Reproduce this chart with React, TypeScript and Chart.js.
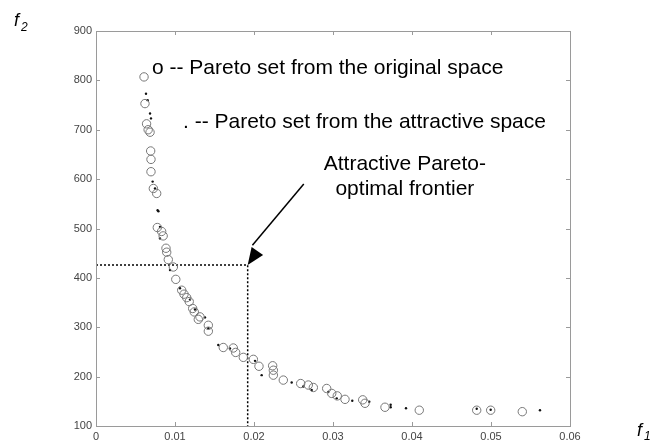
import React, { useEffect, useRef } from "react";
import { Chart, registerables } from "chart.js";

Chart.register(...registerables);

// Pareto set from the original space (circles)
const origF1 = [0.00608, 0.0062, 0.0064, 0.0066, 0.00684, 0.00692, 0.00696, 0.00696, 0.00726, 0.00768, 0.00776, 0.00831, 0.0085, 0.00886, 0.00895, 0.00915, 0.00979, 0.0101, 0.01085, 0.01114, 0.01148, 0.0118, 0.01224, 0.01244, 0.01316, 0.01295, 0.01422, 0.01422, 0.01611, 0.01738, 0.01768, 0.01865, 0.01992, 0.02063, 0.02236, 0.02245, 0.02245, 0.02371, 0.02591, 0.02687, 0.02751, 0.0292, 0.02984, 0.03054, 0.03152, 0.03376, 0.03405, 0.03658, 0.04092, 0.04819, 0.04996, 0.05396];
const origF2 = [807, 753, 712, 700, 695, 657, 640, 615, 581, 571, 502, 494, 485, 460, 452, 437, 422, 397, 375, 367, 360, 352, 338, 331, 321, 316, 304, 292, 259, 258, 249, 239, 235, 221, 222, 213, 203, 193, 186, 183, 178, 176, 166, 161, 154, 153, 146, 138, 132, 132, 132, 129];

// Pareto set from the attractive space (dots)
const attrF1 = [0.00633, 0.00654, 0.00684, 0.00696, 0.00717, 0.00747, 0.0078, 0.0079, 0.0081, 0.0081, 0.00937, 0.01063, 0.0119, 0.01253, 0.0138, 0.01422, 0.01548, 0.01696, 0.02013, 0.02097, 0.02477, 0.02624, 0.0273, 0.0294, 0.03047, 0.03244, 0.03459, 0.0373, 0.0373, 0.03924, 0.04819, 0.04996, 0.0562];
const attrF2 = [773, 760, 733, 723, 595, 581, 537, 535, 503, 480, 416, 379, 356, 336, 320, 298, 264, 257, 232, 203, 188, 180, 173, 169, 156, 151, 149, 143, 138, 136, 135, 133, 132];

// Attractive frontier marker point and arrow
const frontierF1 = 0.0192;
const frontierF2 = 426;
const arrowStart = { x: 0.0263, y: 590 };

const xTicks = [0, 0.01, 0.02, 0.03, 0.04, 0.05, 0.06];
const yTicks = [100, 200, 300, 400, 500, 600, 700, 800, 900];

const legend1 = "o -- Pareto set from the original space";
const legend2 = ". -- Pareto set from the attractive space";
const note1 = "Attractive Pareto-";
const note2 = "optimal frontier";

const TEXT_FONT = "21px 'Liberation Sans', Arial, sans-serif";

const decorPlugin = {
  id: "decor",
  afterDatasetsDraw(chart: any) {
    const { ctx, chartArea, scales } = chart;
    const xs = scales.x;
    const ys = scales.y;
    ctx.save();
    // frame
    ctx.strokeStyle = "#9a9a9a";
    ctx.lineWidth = 1;
    ctx.strokeRect(chartArea.left + 0.5, chartArea.top + 0.5, chartArea.right - chartArea.left, chartArea.bottom - chartArea.top);
    // inner ticks
    const tl = 4;
    ctx.beginPath();
    xTicks.forEach((v) => {
      const px = Math.round(xs.getPixelForValue(v)) + 0.5;
      ctx.moveTo(px, chartArea.bottom);
      ctx.lineTo(px, chartArea.bottom - tl);
      ctx.moveTo(px, chartArea.top);
      ctx.lineTo(px, chartArea.top + tl);
    });
    yTicks.forEach((v) => {
      const py = Math.round(ys.getPixelForValue(v)) + 0.5;
      ctx.moveTo(chartArea.left, py);
      ctx.lineTo(chartArea.left + tl, py);
      ctx.moveTo(chartArea.right, py);
      ctx.lineTo(chartArea.right - tl, py);
    });
    ctx.stroke();

    // arrowhead
    const sx = xs.getPixelForValue(arrowStart.x);
    const sy = ys.getPixelForValue(arrowStart.y);
    const tx = xs.getPixelForValue(frontierF1);
    const ty = ys.getPixelForValue(frontierF2);
    const ang = Math.atan2(ty - sy, tx - sx);
    const L = 17;
    const W = 7;
    ctx.fillStyle = "#000";
    ctx.beginPath();
    ctx.moveTo(tx, ty);
    ctx.lineTo(tx - L * Math.cos(ang) + W * Math.sin(ang), ty - L * Math.sin(ang) - W * Math.cos(ang));
    ctx.lineTo(tx - L * Math.cos(ang) - W * Math.sin(ang), ty - L * Math.sin(ang) + W * Math.cos(ang));
    ctx.closePath();
    ctx.fill();

    // texts
    ctx.fillStyle = "#000";
    ctx.font = TEXT_FONT;
    ctx.textBaseline = "alphabetic";
    ctx.textAlign = "left";
    ctx.fillText(legend1, xs.getPixelForValue(0.00709), ys.getPixelForValue(812));
    ctx.fillText(legend2, xs.getPixelForValue(0.01101), ys.getPixelForValue(703));
    ctx.textAlign = "center";
    ctx.fillText(note1, xs.getPixelForValue(0.0391), ys.getPixelForValue(618));
    ctx.fillText(note2, xs.getPixelForValue(0.0391), ys.getPixelForValue(568));

    // axis name labels
    ctx.font = "italic 18px 'Liberation Sans', Arial, sans-serif";
    ctx.textAlign = "left";
    ctx.fillText("f", 14, 26);
    ctx.fillText("f", 637, 436);
    ctx.font = "italic 12px 'Liberation Sans', Arial, sans-serif";
    ctx.fillText("2", 21, 31);
    ctx.fillText("1", 644, 440);
    ctx.restore();
  },
};

export default function App() {
  const ref = useRef<HTMLCanvasElement>(null);
  useEffect(() => {
    document.body.style.margin = "0";
    const canvas = ref.current!;
    const chart = new Chart(canvas, {
      type: "scatter",
      data: {
        datasets: [
          {
            label: "original",
            data: origF1.map((x, i) => ({ x, y: origF2[i] })),
            pointStyle: "circle",
            pointRadius: 4.2,
            backgroundColor: "rgba(0,0,0,0)",
            borderColor: "#777",
            borderWidth: 1,
          },
          {
            label: "attractive",
            data: attrF1.map((x, i) => ({ x, y: attrF2[i] })),
            pointStyle: "circle",
            pointRadius: 1.2,
            backgroundColor: "#111",
            borderColor: "#111",
            borderWidth: 0,
          },
          {
            type: "line",
            label: "guides",
            data: [
              { x: 0, y: frontierF2 },
              { x: frontierF1, y: frontierF2 },
              { x: frontierF1, y: 100 },
            ],
            borderColor: "#000",
            borderWidth: 1.5,
            borderDash: [2, 2],
            pointRadius: 0,
            fill: false,
            showLine: true,
          } as any,
          {
            type: "line",
            label: "arrow",
            data: [arrowStart, { x: frontierF1 + 0.0006, y: frontierF2 + 40 }],
            borderColor: "#000",
            borderWidth: 1.5,
            pointRadius: 0,
            fill: false,
            showLine: true,
          } as any,
        ],
      },
      options: {
        animation: false,
        responsive: false,
        maintainAspectRatio: false,
        layout: { padding: { left: 0, right: 90, top: 31, bottom: 0 } },
        plugins: { legend: { display: false }, tooltip: { enabled: false } },
        scales: {
          x: {
            type: "linear",
            min: 0,
            max: 0.06,
            afterBuildTicks: (s: any) => {
              s.ticks = xTicks.map((v) => ({ value: v }));
            },
            afterFit: (s: any) => {
              s.height = 15;
            },
            grid: { display: false, drawTicks: false },
            border: { display: true, color: "#9a9a9a" },
            ticks: {
              padding: 4,
              color: "#444",
              font: { family: "'Liberation Sans', Arial, sans-serif", size: 11 },
              callback: (v: any) => (v === 0 ? "0" : Number(v).toFixed(2)),
              maxRotation: 0,
            },
          },
          y: {
            type: "linear",
            min: 100,
            max: 900,
            afterBuildTicks: (s: any) => {
              s.ticks = yTicks.map((v) => ({ value: v }));
            },
            afterFit: (s: any) => {
              s.width = 96;
            },
            grid: { display: false, drawTicks: false },
            border: { display: true, color: "#9a9a9a" },
            ticks: {
              padding: 4,
              color: "#444",
              font: { family: "'Liberation Sans', Arial, sans-serif", size: 11 },
              callback: (v: any) => String(v),
            },
          },
        },
      },
      plugins: [decorPlugin],
    });
    return () => chart.destroy();
  }, []);
  return (
    <div style={{ position: "absolute", left: 0, top: 0, width: 660, height: 441, background: "#fff" }}>
      <canvas ref={ref} width={660} height={441} style={{ width: 660, height: 441 }} />
    </div>
  );
}
